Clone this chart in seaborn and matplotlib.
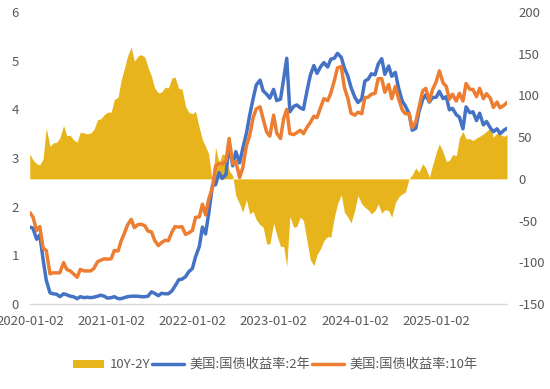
import matplotlib
matplotlib.use("Agg")
import matplotlib.pyplot as plt
from matplotlib.patches import Patch
from matplotlib.lines import Line2D
import numpy as np
import pandas as pd
import seaborn as sns

# ---- data (semi-monthly readings, 2020-01 .. 2025-11) ----
dates = pd.date_range("2020-01-01", periods=142, freq="SMS")

y2 = [
    1.58, 1.56, 1.33, 1.42, 0.91, 0.49, 0.23, 0.21, 0.20, 0.15, 0.21, 0.19,
    0.16, 0.15, 0.11, 0.15, 0.13, 0.14, 0.13, 0.14, 0.16, 0.18, 0.16, 0.12,
    0.13, 0.15, 0.11, 0.11, 0.13, 0.15, 0.16, 0.16, 0.16, 0.15, 0.15, 0.16,
    0.25, 0.22, 0.17, 0.22, 0.21, 0.21, 0.27, 0.37, 0.50, 0.51, 0.56, 0.66,
    0.73, 0.97, 1.18, 1.58, 1.44, 1.85, 2.44, 2.45, 2.70, 2.58, 2.66, 3.30,
    2.84, 3.13, 2.90, 3.19, 3.51, 3.87, 4.22, 4.50, 4.60, 4.38, 4.31, 4.23,
    4.41, 4.18, 4.21, 4.62, 5.05, 3.95, 4.06, 4.09, 4.03, 4.00, 4.40, 4.70,
    4.90, 4.74, 4.88, 4.96, 4.87, 5.03, 5.05, 5.15, 5.07, 4.85, 4.68, 4.45,
    4.25, 4.14, 4.21, 4.58, 4.62, 4.73, 4.71, 4.93, 5.04, 4.72, 4.89, 4.68,
    4.76, 4.45, 4.17, 4.07, 3.91, 3.57, 3.61, 3.95, 4.20, 4.30, 4.15, 4.24,
    4.25, 4.37, 4.22, 4.26, 3.99, 4.02, 3.89, 3.84, 3.60, 4.05, 3.93, 3.95,
    3.77, 3.92, 3.68, 3.75, 3.62, 3.54, 3.60, 3.50, 3.57, 3.61,
]

y10 = [
    1.88, 1.79, 1.51, 1.59, 1.15, 1.10, 0.62, 0.64, 0.64, 0.64, 0.85, 0.71,
    0.68, 0.62, 0.55, 0.71, 0.68, 0.68, 0.68, 0.73, 0.87, 0.90, 0.93, 0.92,
    0.93, 1.10, 1.09, 1.30, 1.45, 1.62, 1.74, 1.57, 1.63, 1.64, 1.61, 1.50,
    1.48, 1.31, 1.20, 1.26, 1.31, 1.30, 1.48, 1.59, 1.58, 1.59, 1.43, 1.46,
    1.51, 1.78, 1.79, 2.05, 1.83, 2.15, 2.39, 2.83, 2.89, 2.88, 2.94, 3.40,
    2.88, 2.93, 2.60, 2.79, 3.26, 3.45, 3.83, 4.01, 4.05, 3.80, 3.53, 3.45,
    3.88, 3.51, 3.40, 3.81, 4.00, 3.50, 3.48, 3.52, 3.57, 3.50, 3.64, 3.73,
    3.86, 3.83, 4.05, 4.22, 4.18, 4.33, 4.59, 4.85, 4.88, 4.45, 4.22, 3.92,
    3.88, 3.94, 3.91, 4.24, 4.25, 4.31, 4.33, 4.63, 4.63, 4.35, 4.51, 4.22,
    4.47, 4.23, 3.99, 3.91, 3.91, 3.62, 3.74, 4.03, 4.38, 4.43, 4.17, 4.40,
    4.57, 4.79, 4.54, 4.47, 4.21, 4.31, 4.17, 4.33, 4.17, 4.53, 4.41, 4.41,
    4.26, 4.43, 4.22, 4.32, 4.23, 4.04, 4.15, 4.03, 4.08, 4.14,
]

tick_dates = ["2020-01-02", "2021-01-02", "2022-01-02",
              "2023-01-02", "2024-01-02", "2025-01-02"]
left_ticks = [0, 1, 2, 3, 4, 5, 6]
right_ticks = [-150, -100, -50, 0, 50, 100, 150, 200]
series_names = ["10Y-2Y", "美国:国债收益率:2年", "美国:国债收益率:10年"]

df = pd.DataFrame({"date": dates, "y2": y2, "y10": y10})
df["spread"] = (df["y10"] - df["y2"]) * 100

# ---- style ----
sns.set_theme(style="white")
plt.rcParams["font.family"] = ["Noto Sans CJK SC", "DejaVu Sans"]
TXT = "#595959"
YEL = "#E8B41B"
BLU = "#4472C4"
ORA = "#ED7D31"
FS = 9.5
LW = 2.5

fig = plt.figure(figsize=(5.5, 3.89), dpi=100)
ax = fig.add_axes([30 / 550, 1 - 304 / 389, 477 / 550, 292 / 389])
ax2 = ax.twinx()

# area on right scale (drawn behind)
ax.fill_between(df["date"], 0, df["spread"], color=YEL, linewidth=0)
ax.set_ylim(-150, 200)
ax.yaxis.tick_right()
ax.set_yticks(right_ticks)
ax.set_yticklabels([str(v) for v in right_ticks])

# lines on left scale
sns.lineplot(data=df, x="date", y="y2", ax=ax2, color=BLU, linewidth=LW,
             legend=False)
sns.lineplot(data=df, x="date", y="y10", ax=ax2, color=ORA, linewidth=LW,
             legend=False)
ax2.set_ylim(0, 6)
ax2.yaxis.tick_left()
ax2.set_yticks(left_ticks)
ax2.set_yticklabels([str(v) for v in left_ticks])
ax2.set_xlabel("")
ax2.set_ylabel("")
ax.set_xlabel("")
ax.set_ylabel("")

ax.set_xlim(pd.Timestamp(tick_dates[0]), dates[-1])
ax.set_xticks(pd.to_datetime(tick_dates))
ax.set_xticklabels(tick_dates)

for a in (ax, ax2):
    for s in a.spines.values():
        s.set_visible(False)
    a.tick_params(axis="both", length=0, labelsize=FS, colors=TXT)
    a.grid(False)
ax.spines["bottom"].set_visible(True)
ax.spines["bottom"].set_color("#D9D9D9")
ax.spines["bottom"].set_linewidth(1.0)
ax.tick_params(axis="x", pad=8)
ax.tick_params(axis="y", pad=8)
ax2.tick_params(axis="y", pad=8)

handles = [
    Patch(facecolor=YEL, edgecolor="none"),
    Line2D([0], [0], color=BLU, linewidth=LW),
    Line2D([0], [0], color=ORA, linewidth=LW),
]
fig.legend(handles, series_names, loc="center",
           bbox_to_anchor=(275 / 550, 1 - 365 / 389), ncol=3, frameon=False,
           fontsize=FS, labelcolor=TXT, handlelength=2.4, handletextpad=0.4,
           columnspacing=0.15, handleheight=0.6)

fig.savefig("out.png", dpi=100)
